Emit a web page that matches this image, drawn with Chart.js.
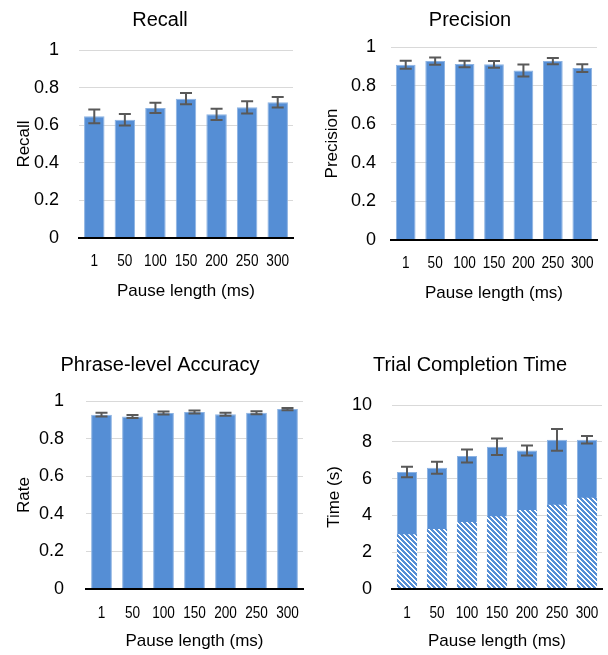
<!DOCTYPE html>
<html>
<head>
<meta charset="utf-8">
<script src="https://cdn.jsdelivr.net/npm/chart.js@4.4.1/dist/chart.umd.min.js"></script>
<style>
  html, body { margin: 0; padding: 0; background: #fff; }
  #wrap { position: relative; width: 608px; height: 655px; overflow: hidden; }
  canvas { position: absolute; }
</style>
</head>
<body>
<div id="wrap">
  <canvas id="recall" width="304" height="328" style="left:0;top:0"></canvas>
  <canvas id="precision" width="304" height="328" style="left:304px;top:0"></canvas>
  <canvas id="accuracy" width="304" height="327" style="left:0;top:328px"></canvas>
  <canvas id="time" width="304" height="327" style="left:304px;top:328px"></canvas>
</div>
<script>
// values
var pauseLengths = ['1', '50', '100', '150', '200', '250', '300'];

var recallMean = [0.647, 0.629, 0.692, 0.741, 0.658, 0.695, 0.722];
var recallErr = [0.036, 0.031, 0.027, 0.030, 0.030, 0.033, 0.028];

var precisionMean = [0.908, 0.927, 0.912, 0.910, 0.878, 0.927, 0.891];
var precisionErr = [0.021, 0.019, 0.017, 0.018, 0.031, 0.016, 0.020];

var accuracyMean = [0.927, 0.918, 0.936, 0.941, 0.929, 0.938, 0.957];
var accuracyErr = [0.010, 0.008, 0.008, 0.008, 0.008, 0.008, 0.006];

var timeTotal = [6.36, 6.59, 7.23, 7.73, 7.53, 8.11, 8.11];
var timeTotalErr = [0.29, 0.33, 0.35, 0.45, 0.27, 0.59, 0.20];
var timeLower = [2.97, 3.26, 3.64, 3.95, 4.29, 4.58, 4.96];

var rateTicks = [0, 0.2, 0.4, 0.6, 0.8, 1];
var timeTicks = [0, 2, 4, 6, 8, 10];

var barBlue = '#558ed5';
var fontFamily = "'Liberation Sans', Arial, sans-serif";

var panelTitle = {
    id: 'panelTitle',
    afterDraw: function(chart, args, opts) {
        var ctx = chart.ctx;
        ctx.save();
        ctx.font = '20px ' + fontFamily;
        ctx.fillStyle = '#000';
        ctx.textAlign = 'center';
        ctx.textBaseline = 'middle';
        ctx.fillText(opts.text, opts.x, opts.y);
        ctx.restore();
    }
};

// category labels in a narrow face (squeezed horizontally)
var narrowLabels = {
    id: 'narrowLabels',
    afterDraw: function(chart, args, opts) {
        var ctx = chart.ctx;
        var xScale = chart.scales.x;
        var y = chart.chartArea.bottom + opts.offset;
        ctx.save();
        ctx.font = '17px ' + fontFamily;
        ctx.fillStyle = '#000';
        ctx.textAlign = 'center';
        ctx.textBaseline = 'middle';
        chart.data.labels.forEach(function(lbl, i) {
            ctx.save();
            ctx.translate(xScale.getPixelForValue(i), y);
            ctx.scale(0.8, 1);
            ctx.fillText(lbl, 0, 0);
            ctx.restore();
        });
        ctx.restore();
    }
};

var errorBars = {
    id: 'errorBars',
    afterDatasetsDraw: function(chart) {
        var ctx = chart.ctx;
        var yScale = chart.scales.y;
        chart.data.datasets.forEach(function(ds, di) {
            if (!ds.errors) return;
            var meta = chart.getDatasetMeta(di);
            ctx.save();
            ctx.strokeStyle = '#595959';
            ctx.lineWidth = 2;
            meta.data.forEach(function(bar, i) {
                var hi = yScale.getPixelForValue(ds.data[i] + ds.errors[i]);
                var lo = yScale.getPixelForValue(ds.data[i] - ds.errors[i]);
                ctx.beginPath();
                ctx.moveTo(bar.x, hi); ctx.lineTo(bar.x, lo);
                ctx.moveTo(bar.x - 6, hi); ctx.lineTo(bar.x + 6, hi);
                ctx.moveTo(bar.x - 6, lo); ctx.lineTo(bar.x + 6, lo);
                ctx.stroke();
            });
            ctx.restore();
        });
    }
};

function makeHatch(canvasId) {
    var n = 5;
    var tile = document.createElement('canvas');
    tile.width = n;
    tile.height = n;
    var g = tile.getContext('2d');
    g.fillStyle = '#fff';
    g.fillRect(0, 0, n, n);
    g.fillStyle = barBlue;
    for (var y = 0; y < n; y++) {
        for (var x = 0; x < n; x++) {
            if ((((x - y) % n) + n) % n < 3) g.fillRect(x, y, 1, 1);
        }
    }
    return document.getElementById(canvasId).getContext('2d').createPattern(tile, 'repeat');
}

function solidSet(values, errors) {
    return {
        data: values,
        errors: errors,
        backgroundColor: barBlue,
        borderColor: '#8db3e2',
        borderWidth: 1,
        categoryPercentage: 1,
        barPercentage: 0.67,
        grouped: false
    };
}

function makePanel(id, p) {
    var font = { family: fontFamily, size: 17 };
    return new Chart(document.getElementById(id), {
        type: 'bar',
        data: { labels: pauseLengths, datasets: p.datasets },
        options: {
            responsive: false,
            animation: false,
            layout: { padding: { left: 0, top: p.top, right: p.right, bottom: 0 } },
            plugins: {
                legend: { display: false },
                tooltip: { enabled: false },
                panelTitle: { text: p.title, x: p.titleX, y: p.titleY },
                narrowLabels: { offset: p.xLabelOffset }
            },
            scales: {
                x: {
                    grid: { display: false, drawTicks: false },
                    border: { display: true, color: '#000', width: 2, z: 1 },
                    ticks: { display: false },
                    title: {
                        display: true,
                        text: 'Pause length (ms)',
                        font: font,
                        color: '#000',
                        padding: { top: 0, bottom: p.xTitlePad }
                    },
                    afterFit: function(s) { s.height = p.xHeight; }
                },
                y: {
                    min: 0,
                    max: p.ticks[p.ticks.length - 1],
                    afterBuildTicks: function(s) {
                        s.ticks = p.ticks.map(function(v) { return { value: v }; });
                    },
                    grid: {
                        drawTicks: false,
                        lineWidth: 1,
                        color: function(c) {
                            return c.tick && c.tick.value === 0 ? 'rgba(0,0,0,0)' : '#d9d9d9';
                        }
                    },
                    border: { display: false },
                    ticks: {
                        font: { family: fontFamily, size: 18 },
                        color: '#000',
                        padding: p.yTickPad,
                        callback: function(v) { return String(v); }
                    },
                    title: {
                        display: true,
                        text: p.yTitle,
                        font: font,
                        color: '#000',
                        padding: { top: p.yTitlePad, bottom: 0 }
                    },
                    afterFit: function(s) { s.width = p.yWidth; }
                }
            }
        },
        plugins: [panelTitle, errorBars, narrowLabels]
    });
}

makePanel('recall', {
    title: 'Recall', titleX: 160, titleY: 20,
    yTitle: 'Recall', ticks: rateTicks,
    top: 50, right: 11, xHeight: 90, xLabelOffset: 23, xTitlePad: 26,
    yWidth: 79, yTickPad: 20, yTitlePad: 14,
    datasets: [solidSet(recallMean, recallErr)]
});

makePanel('precision', {
    title: 'Precision', titleX: 166, titleY: 20,
    yTitle: 'Precision', ticks: rateTicks,
    top: 47, right: 11, xHeight: 88, xLabelOffset: 23, xTitlePad: 24,
    yWidth: 87, yTickPad: 15, yTitlePad: 18,
    datasets: [solidSet(precisionMean, precisionErr)]
});

makePanel('accuracy', {
    title: 'Phrase-level Accuracy', titleX: 160, titleY: 37.5,
    yTitle: 'Rate', ticks: rateTicks,
    top: 73, right: 1, xHeight: 66, xLabelOffset: 24, xTitlePad: 3,
    yWidth: 86, yTickPad: 22, yTitlePad: 14,
    datasets: [solidSet(accuracyMean, accuracyErr)]
});

makePanel('time', {
    title: 'Trial Completion Time', titleX: 166, titleY: 37.5,
    yTitle: 'Time (s)', ticks: timeTicks,
    top: 77, right: 6, xHeight: 66, xLabelOffset: 24, xTitlePad: 3,
    yWidth: 88, yTickPad: 20, yTitlePad: 20,
    datasets: [
        {
            data: timeLower,
            backgroundColor: makeHatch('time'),
            borderWidth: 0,
            categoryPercentage: 1,
            barPercentage: 0.67,
            grouped: false
        },
        solidSet(timeTotal, timeTotalErr)
    ]
});
</script>
</body>
</html>
